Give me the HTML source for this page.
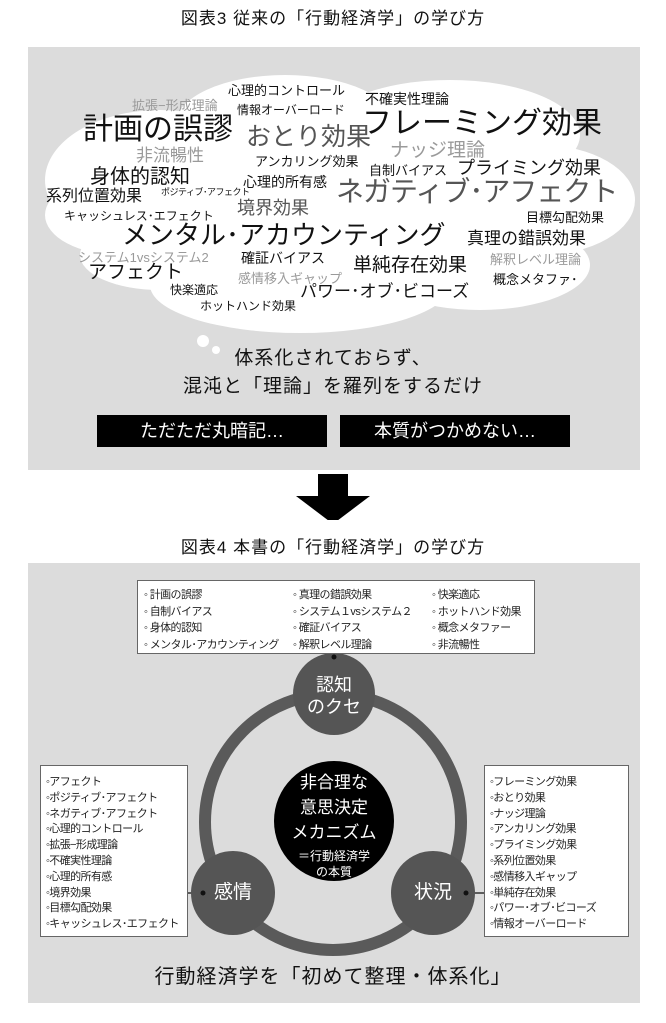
<!DOCTYPE html><html><head><meta charset="utf-8"><style>
body{margin:0;width:666px;height:1023px;background:#fff;position:relative;font-family:"Liberation Sans","Noto Sans CJK JP",sans-serif;overflow:hidden}
.a{position:absolute;white-space:nowrap;line-height:1;color:#111}
.g{color:#9a9a9a}.d{color:#555}
.box{position:absolute;background:#fff;border:1.5px solid #666;font-size:11px;color:#222;letter-spacing:-0.6px}
.box div{position:absolute;white-space:nowrap;line-height:1}
</style></head><body>
<div class="a" style="left:0;width:666px;text-align:center;top:10px;font-size:17px;letter-spacing:1px">図表3 従来の「行動経済学」の学び方</div>
<div style="position:absolute;left:28px;top:47px;width:612px;height:423px;background:#dcdcdc"></div>
<svg style="position:absolute;left:0;top:0" width="666" height="520">
<g fill="#fff">
<ellipse cx="160" cy="180" rx="115" ry="70"/><ellipse cx="120" cy="215" rx="75" ry="40"/>
<ellipse cx="285" cy="125" rx="110" ry="50"/><ellipse cx="450" cy="135" rx="130" ry="55"/>
<ellipse cx="540" cy="200" rx="95" ry="55"/><ellipse cx="330" cy="215" rx="230" ry="95"/>
<ellipse cx="300" cy="285" rx="150" ry="48"/><ellipse cx="480" cy="265" rx="110" ry="45"/>
<ellipse cx="160" cy="255" rx="80" ry="35"/>
<circle cx="203" cy="341" r="6"/><circle cx="216" cy="350" r="4"/></g>
<path d="M318 474h30v22h22l-37 28-37-28h22z" fill="#000"/>
</svg>
<div class="a" style="left:228px;top:84px;font-size:13px">心理的コントロール</div>
<div class="a g" style="left:132px;top:99px;font-size:13px">拡張−形成理論</div>
<div class="a" style="left:237px;top:104px;font-size:12px">情報オーバーロード</div>
<div class="a" style="left:365px;top:92px;font-size:14px">不確実性理論</div>
<div class="a" style="left:83px;top:115px;font-size:30px">計画の誤謬</div>
<div class="a d" style="left:246px;top:125px;font-size:25px">おとり効果</div>
<div class="a" style="left:362px;top:109px;font-size:30px">フレーミング効果</div>
<div class="a g" style="left:136px;top:147px;font-size:17px">非流暢性</div>
<div class="a g" style="left:390px;top:141px;font-size:19px">ナッジ理論</div>
<div class="a" style="left:255px;top:155px;font-size:13px">アンカリング効果</div>
<div class="a" style="left:369px;top:164px;font-size:13px">自制バイアス</div>
<div class="a" style="left:457px;top:159px;font-size:18px">プライミング効果</div>
<div class="a" style="left:90px;top:167px;font-size:20px">身体的認知</div>
<div class="a" style="left:243px;top:175px;font-size:14px">心理的所有感</div>
<div class="a" style="left:46px;top:189px;font-size:16px">系列位置効果</div>
<div class="a" style="left:161px;top:188px;font-size:9px;letter-spacing:-0.5px">ポジティブ･アフェクト</div>
<div class="a d" style="left:336px;top:178px;font-size:28px;letter-spacing:-1px">ネガティブ･アフェクト</div>
<div class="a d" style="left:237px;top:199px;font-size:18px">境界効果</div>
<div class="a" style="left:64px;top:210px;font-size:12px">キャッシュレス･エフェクト</div>
<div class="a" style="left:526px;top:211px;font-size:13px">目標勾配効果</div>
<div class="a" style="left:122px;top:222px;font-size:26px">メンタル･アカウンティング</div>
<div class="a" style="left:467px;top:230px;font-size:17px">真理の錯誤効果</div>
<div class="a g" style="left:78px;top:251px;font-size:13px">システム1vsシステム2</div>
<div class="a" style="left:241px;top:251px;font-size:14px">確証バイアス</div>
<div class="a" style="left:88px;top:263px;font-size:19px">アフェクト</div>
<div class="a g" style="left:238px;top:272px;font-size:13px">感情移入ギャップ</div>
<div class="a" style="left:353px;top:256px;font-size:19px">単純存在効果</div>
<div class="a g" style="left:490px;top:253px;font-size:13px">解釈レベル理論</div>
<div class="a" style="left:493px;top:273px;font-size:13px">概念メタファ･</div>
<div class="a" style="left:170px;top:284px;font-size:12px">快楽適応</div>
<div class="a" style="left:300px;top:283px;font-size:17px">パワー･オブ･ビコーズ</div>
<div class="a" style="left:200px;top:300px;font-size:12px">ホットハンド効果</div>
<div class="a" style="left:0;width:666px;text-align:center;top:349px;font-size:19px;letter-spacing:1px">体系化されておらず、</div>
<div class="a" style="left:0;width:666px;text-align:center;top:377px;font-size:19px;letter-spacing:1px">混沌と「理論」を羅列をするだけ</div>
<div class="a" style="left:97px;top:415px;width:230px;height:32px;background:#000;color:#fff;font-size:18px;text-align:center;line-height:32px">ただただ丸暗記…</div>
<div class="a" style="left:340px;top:415px;width:230px;height:32px;background:#000;color:#fff;font-size:18px;text-align:center;line-height:32px">本質がつかめない…</div>
<div class="a" style="left:0;width:666px;text-align:center;top:539px;font-size:17px;letter-spacing:1px">図表4 本書の「行動経済学」の学び方</div>
<div style="position:absolute;left:28px;top:563px;width:612px;height:440px;background:#dcdcdc"></div>
<svg style="position:absolute;left:0;top:0" width="666" height="1023">
<line x1="334" y1="652" x2="334" y2="660" stroke="#333" stroke-width="1.5"/>
<line x1="186" y1="893" x2="203" y2="893" stroke="#333" stroke-width="1.5"/>
<line x1="466" y1="893" x2="484" y2="893" stroke="#333" stroke-width="1.5"/>
<circle cx="333" cy="822" r="128" fill="none" stroke="#5a5a5a" stroke-width="12"/>
<circle cx="334" cy="694" r="41" fill="#555"/>
<circle cx="233" cy="893" r="42" fill="#555"/>
<circle cx="433" cy="893" r="42" fill="#555"/>
<circle cx="334" cy="821" r="60" fill="#000"/>
<circle cx="334" cy="657" r="2.5" fill="#111"/><circle cx="203" cy="893" r="2.5" fill="#111"/><circle cx="466" cy="893" r="2.5" fill="#111"/>
</svg>
<div class="a" style="left:294px;top:674px;width:80px;text-align:center;color:#fff;font-size:18px;line-height:22px;white-space:normal">認知<br>のクセ</div>
<div class="a" style="left:193px;top:883px;width:80px;text-align:center;color:#fff;font-size:19px">感情</div>
<div class="a" style="left:393px;top:883px;width:80px;text-align:center;color:#fff;font-size:19px">状況</div>
<div class="a" style="left:274px;top:770px;width:120px;text-align:center;color:#fff;font-size:17px;line-height:25px;white-space:normal">非合理な<br>意思決定<br>メカニズム</div>
<div class="a" style="left:274px;top:848px;width:120px;text-align:center;color:#fff;font-size:12px;line-height:16px;white-space:normal">＝行動経済学<br>の本質</div>
<div class="box" style="left:137px;top:580px;width:396px;height:72px">
<div style="left:6px;top:6px;line-height:16.5px">◦ 計画の誤謬<br>◦ 自制バイアス<br>◦ 身体的認知<br>◦ メンタル･アカウンティング</div>
<div style="left:155px;top:6px;line-height:16.5px">◦ 真理の錯誤効果<br>◦ システム１vsシステム２<br>◦ 確証バイアス<br>◦ 解釈レベル理論</div>
<div style="left:294px;top:6px;line-height:16.5px">◦ 快楽適応<br>◦ ホットハンド効果<br>◦ 概念メタファー<br>◦ 非流暢性</div></div>
<div class="box" style="left:40px;top:765px;width:146px;height:170px">
<div style="left:5px;top:9px;line-height:15.8px">◦アフェクト<br>◦ポジティブ･アフェクト<br>◦ネガティブ･アフェクト<br>◦心理的コントロール<br>◦拡張−形成理論<br>◦不確実性理論<br>◦心理的所有感<br>◦境界効果<br>◦目標勾配効果<br>◦キャッシュレス･エフェクト</div></div>
<div class="box" style="left:484px;top:765px;width:143px;height:170px">
<div style="left:5px;top:9px;line-height:15.8px">◦フレーミング効果<br>◦おとり効果<br>◦ナッジ理論<br>◦アンカリング効果<br>◦プライミング効果<br>◦系列位置効果<br>◦感情移入ギャップ<br>◦単純存在効果<br>◦パワー･オブ･ビコーズ<br>◦情報オーバーロード</div></div>
<div class="a" style="left:0;width:666px;text-align:center;top:967px;font-size:20px;letter-spacing:1px">行動経済学を「初めて整理・体系化」</div>
</body></html>
